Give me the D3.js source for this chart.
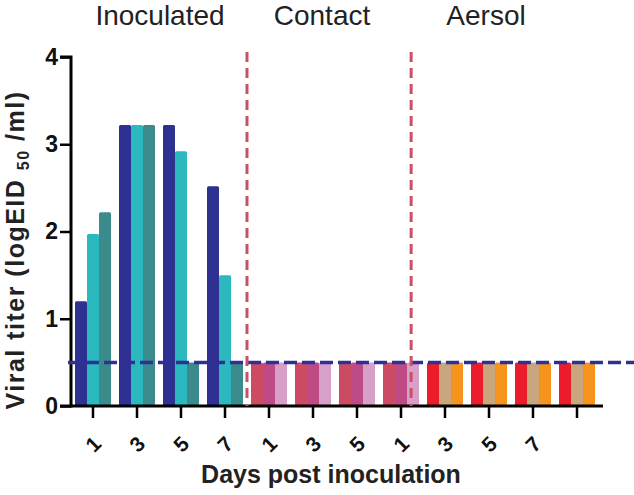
<!DOCTYPE html>
<html>
<head>
<meta charset="utf-8">
<script src="https://cdn.jsdelivr.net/npm/d3@7"></script>
<style>
  body { margin: 0; background: #fff; }
  text { font-family: Arial, "Liberation Sans", sans-serif; }
</style>
</head>
<body>
<div id="chart"></div>
<script>
// Data
const groupNames = ["Inoculated", "Contact", "Aersol"];
const tickLabels = ["1", "3", "5", "7", "1", "3", "5", "1", "3", "5", "7", ""];
const groupOf = [0, 0, 0, 0, 1, 1, 1, 1, 2, 2, 2, 2];

// three bars per day, one array per bird
const bird1 = [1.2, 3.22, 3.22, 2.52, 0.5, 0.5, 0.5, 0.5, 0.5, 0.5, 0.5, 0.5];
const bird2 = [1.97, 3.22, 2.92, 1.5, 0.5, 0.5, 0.5, 0.5, 0.5, 0.5, 0.5, 0.5];
const bird3 = [2.22, 3.22, 0.5, 0.5, 0.5, 0.5, 0.5, 0.5, 0.5, 0.5, 0.5, 0.5];
const detectionLimit = 0.5;
const yTicks = [0, 1, 2, 3, 4];

const colors = [
    ["#2e3092", "#2bb9bf", "#3b8b8c"],
    ["#cc4b63", "#bf4b86", "#d7a0c9"],
    ["#ed1c2a", "#c9a67e", "#f7941d"]
];

const width = 634;
const height = 495;
const plotLeft = 71, plotRight = 599, plotTop = 57, plotBottom = 406;

const svg = d3.select("#chart").append("svg")
    .attr("width", width)
    .attr("height", height);

const x = d3.scaleBand()
    .domain(d3.range(tickLabels.length))
    .range([plotLeft, plotRight]);

const sub = d3.scaleBand()
    .domain([0, 1, 2])
    .range([0, x.bandwidth()])
    .paddingOuter(1 / 3);

const y = d3.scaleLinear()
    .domain([0, 4])
    .range([plotBottom, plotTop]);

// position in "band units" for the divider lines
const xUnit = d3.scaleLinear().domain([0, tickLabels.length]).range([plotLeft, plotRight]);

// Bars
const series = [bird1, bird2, bird3];
series.forEach((values, s) => {
    svg.append("g").selectAll("rect")
        .data(values)
        .enter()
        .append("rect")
        .attr("x", (d, i) => x(i) + sub(s))
        .attr("y", d => y(d))
        .attr("width", sub.bandwidth())
        .attr("height", d => y(0) - y(d))
        .attr("rx", 1.5)
        .attr("fill", (d, i) => colors[groupOf[i]][s]);
});

// Axes
const yAxis = svg.append("g")
    .attr("transform", `translate(${plotLeft},0)`)
    .call(d3.axisLeft(y).tickValues(yTicks).tickSize(11).tickPadding(2).tickFormat(d3.format("d")));
yAxis.select(".domain").attr("stroke-width", 3).attr("d", `M-11,${plotTop}H0V${plotBottom}H-11`);
yAxis.selectAll(".tick line").attr("stroke-width", 2.5);
yAxis.selectAll(".tick text")
    .attr("font-size", 23)
    .attr("font-weight", "bold")
    .attr("fill", "#111");

const xAxis = svg.append("g")
    .attr("transform", `translate(0,${plotBottom})`)
    .call(d3.axisBottom(x).tickSize(12).tickFormat(i => tickLabels[i]));
xAxis.select(".domain").attr("stroke-width", 3).attr("d", `M${plotLeft},0H${plotRight + 4}`);
xAxis.selectAll(".tick line").attr("stroke-width", 2.5);
xAxis.selectAll(".tick text")
    .attr("font-size", 21)
    .attr("font-weight", "bold")
    .attr("fill", "#111")
    .attr("text-anchor", "middle")
    .attr("dy", null)
    .attr("y", 0)
    .attr("transform", "translate(0,38) rotate(-45)")
    .attr("dominant-baseline", "central");

// Detection limit line
svg.append("line")
    .attr("x1", plotLeft - 3)
    .attr("x2", width)
    .attr("y1", y(detectionLimit))
    .attr("y2", y(detectionLimit))
    .attr("stroke", "#2e3092")
    .attr("stroke-width", 3.5)
    .attr("stroke-dasharray", "13,5");

// Group dividers
const dividers = [4, 7.73];
svg.selectAll(".divider")
    .data(dividers)
    .enter()
    .append("line")
    .attr("x1", d => xUnit(d))
    .attr("x2", d => xUnit(d))
    .attr("y1", 52)
    .attr("y2", plotBottom)
    .attr("stroke", "#c9506a")
    .attr("stroke-width", 3)
    .attr("stroke-dasharray", "10,6");

// Group titles
const titleX = [160, 322, 486];
svg.selectAll(".group-title")
    .data(groupNames)
    .enter()
    .append("text")
    .attr("x", (d, i) => titleX[i])
    .attr("y", 25)
    .attr("text-anchor", "middle")
    .attr("font-size", 28)
    .attr("fill", "#222")
    .text(d => d);

// Axis titles
svg.append("text")
    .attr("x", 331)
    .attr("y", 483)
    .attr("text-anchor", "middle")
    .attr("font-size", 25)
    .attr("font-weight", "bold")
    .attr("fill", "#222")
    .text("Days post inoculation");

const yTitle = svg.append("text")
    .attr("transform", "translate(24,250) rotate(-90)")
    .attr("text-anchor", "middle")
    .attr("font-size", 25)
    .attr("font-weight", "bold")
    .attr("letter-spacing", 1.5)
    .attr("fill", "#222");
yTitle.append("tspan").text("Viral titer (logEID ");
yTitle.append("tspan").attr("font-size", 16).attr("dy", 5).text("50");
yTitle.append("tspan").attr("dy", -5).text(" /ml)");
</script>
</body>
</html>
